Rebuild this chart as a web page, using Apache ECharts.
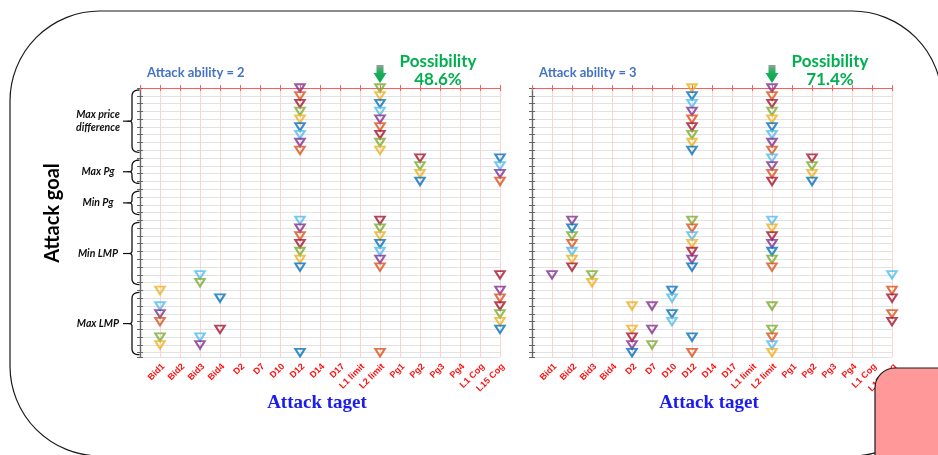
<!DOCTYPE html>
<html>
<head>
<meta charset="utf-8">
<script src="https://cdn.jsdelivr.net/npm/echarts@6/dist/echarts.min.js"></script>
<style>
  html, body { margin: 0; padding: 0; background: #fff; }
  #chart { width: 938px; height: 455px; }
</style>
</head>
<body>
<div id="chart"></div>
<script>
// Attack targets on the x axis (positions 1..18)
const targets = ['Bid1', 'Bid2', 'Bid3', 'Bid4', 'D2', 'D7', 'D10', 'D12', 'D14', 'D17',
  'L1 limit', 'L2 limit', 'Pg1', 'Pg2', 'Pg3', 'Pg4', 'L1 Cog', 'L15 Cog'];

// Attack goals and the rows each one covers
const goals = ['Max price\ndifference', 'Max Pg', 'Min Pg', 'Min LMP', 'Max LMP'];
const goalRows = [[0, 8], [9, 12], [13, 16], [17, 25], [26, 34]];

// Panel headings
const abilities = ['Attack ability = 2', 'Attack ability = 3'];
const possibilities = ['48.6%', '71.4%'];
const highlightTarget = 'L2 limit';

// Marker colours by code
const markerColors = {
  B: '#0072BD', O: '#D95319', Y: '#EDB120', P: '#7E2F8E',
  G: '#77AC30', C: '#4DBEEE', R: '#A2142F'
};

// Successful attacks: [target, first row, colour code for each consecutive row]
const ability2Runs = [
  ['Bid1', 26, 'Y'], ['Bid1', 28, 'CPO'], ['Bid1', 32, 'GY'],
  ['Bid3', 24, 'CG'], ['Bid3', 32, 'CP'],
  ['Bid4', 27, 'B'], ['Bid4', 31, 'R'],
  ['D12', 0, 'PORGYBCPO'], ['D12', 17, 'CPORGYB'], ['D12', 34, 'B'],
  ['L2 limit', 0, 'GYBCPORGY'], ['L2 limit', 17, 'RGYBCPO'], ['L2 limit', 34, 'O'],
  ['Pg2', 9, 'RGYB'],
  ['L15 Cog', 9, 'BCPO'], ['L15 Cog', 24, 'R'], ['L15 Cog', 26, 'PORGYB']
];

const ability3Runs = [
  ['Bid1', 24, 'P'],
  ['Bid2', 17, 'PBGOCYR'],
  ['Bid3', 24, 'GY'],
  ['D2', 28, 'Y'], ['D2', 31, 'YRPB'],
  ['D7', 28, 'P'], ['D7', 31, 'P'], ['D7', 33, 'G'],
  ['D10', 26, 'BC'], ['D10', 29, 'BC'],
  ['D12', 0, 'YBCPORGYB'], ['D12', 17, 'GOCYRPB'], ['D12', 32, 'B'], ['D12', 34, 'O'],
  ['L2 limit', 0, 'PORGYBCPOCPOR'], ['L2 limit', 17, 'CYRPBGO'], ['L2 limit', 28, 'G'],
  ['L2 limit', 31, 'GOCY'],
  ['Pg2', 9, 'RGYB'],
  ['L15 Cog', 24, 'C'], ['L15 Cog', 26, 'OR'], ['L15 Cog', 29, 'OR']
];

const panelRuns = [ability2Runs, ability3Runs];

// ---- layout ----
const GRIDS = [
  { left: 140, top: 88, width: 360, height: 269 },
  { left: 532, top: 88, width: 360, height: 269 }
];
const Y_MAX = 34.55;
const RED_EDGE = '#ff5c5c';
const GREY_EDGE = '#666';

function buildMarks(runs) {
  const pts = [];
  runs.forEach(([target, row, codes]) => {
    [...codes].forEach((c, k) => {
      pts.push({
        value: [targets.indexOf(target) + 1, row + k],
        itemStyle: { borderColor: markerColors[c] }
      });
    });
  });
  // lower rows are painted last
  pts.sort((a, b) => a.value[1] - b.value[1]);
  return pts;
}

const xAxes = [], yAxes = [], series = [];
GRIDS.forEach((g, i) => {
  xAxes.push({
    gridIndex: i, type: 'value', min: 0, max: 18, interval: 1, position: 'bottom',
    axisLine: { lineStyle: { color: RED_EDGE, width: 1.2 } },
    axisTick: { inside: true, length: 3, lineStyle: { color: RED_EDGE } },
    axisLabel: {
      rotate: 45, margin: 5, fontSize: 9, fontWeight: 'bold', color: '#ff1010',
      fontFamily: 'Liberation Sans', showMinLabel: true, showMaxLabel: true,
      align: 'right', verticalAlign: 'top',
      formatter: v => targets[v - 1] || ''
    },
    splitLine: { show: true, lineStyle: { color: '#ffd2d2', width: 1 } }
  });
  xAxes.push({
    gridIndex: i, type: 'value', min: 0, max: 18, interval: 1, position: 'top',
    axisLine: { lineStyle: { color: RED_EDGE, width: 1.2 } },
    axisTick: { inside: true, length: 3, lineStyle: { color: RED_EDGE } },
    axisLabel: { show: false },
    splitLine: { show: false }
  });
  yAxes.push({
    gridIndex: i, type: 'value', inverse: true, min: 0, max: Y_MAX, interval: 1, position: 'left',
    axisLine: { show: true, lineStyle: { color: GREY_EDGE, width: 1.2 } },
    axisTick: { show: true, inside: true, length: 3, lineStyle: { color: GREY_EDGE } },
    axisLabel: { show: false },
    splitLine: { show: true, lineStyle: { color: '#e2e2e2', width: 1 } }
  });
  yAxes.push({
    gridIndex: i, type: 'value', inverse: true, min: 0, max: Y_MAX, interval: 1, position: 'right',
    axisLine: { show: true, lineStyle: { color: GREY_EDGE, width: 1.2 } },
    axisTick: { show: true, inside: true, length: 3, lineStyle: { color: GREY_EDGE } },
    axisLabel: { show: false },
    splitLine: { show: false }
  });
  series.push({
    type: 'scatter',
    xAxisIndex: 2 * i, yAxisIndex: 2 * i,
    symbol: 'triangle', symbolRotate: 180, symbolSize: [9.5, 7.5],
    itemStyle: { color: 'rgba(255,255,255,0)', borderWidth: 2 },
    emphasis: { disabled: true },
    data: buildMarks(panelRuns[i]),
    z: 5
  });
});

const chart = echarts.init(document.getElementById('chart'), null, { renderer: 'canvas' });
chart.setOption({
  animation: false,
  backgroundColor: '#fff',
  grid: GRIDS.map(g => Object.assign({ containLabel: false }, g)),
  xAxis: xAxes,
  yAxis: yAxes,
  series: series
});

// ---- annotations ----
const graphics = [];

// slide frame
graphics.push({
  type: 'rect', z: 0, silent: true,
  shape: { x: 10, y: 11, width: 932, height: 445, r: 90 },
  style: { fill: 'none', stroke: '#1a1a1a', lineWidth: 1.2 }
});

const hiIdx = targets.indexOf(highlightTarget) + 1;
GRIDS.forEach((g, i) => {
  graphics.push({
    type: 'text', z: 20,
    x: g.left + 7, y: 73,
    style: {
      text: abilities[i], fill: '#4472C4', font: 'bold 13px Lato',
      textAlign: 'left', textVerticalAlign: 'middle'
    }
  });
  graphics.push({
    type: 'text', z: 20,
    x: g.left + 298, y: 71,
    style: {
      text: 'Possibility\n' + possibilities[i], fill: '#00B050', font: 'bold 17px Lato',
      textAlign: 'center', textVerticalAlign: 'middle', lineHeight: 18
    }
  });
  // arrow pointing at the highlighted target column
  const ax = chart.convertToPixel({ xAxisIndex: 2 * i }, hiIdx);
  graphics.push({
    type: 'polygon', z: 20, silent: true,
    shape: {
      points: [[ax - 3.5, 65], [ax + 3.5, 65], [ax + 3.5, 73], [ax + 6.5, 73],
               [ax, 83], [ax - 6.5, 73], [ax - 3.5, 73]]
    },
    style: {
      fill: {
        type: 'linear', x: 0, y: 0, x2: 0, y2: 1,
        colorStops: [
          { offset: 0, color: '#8fa69a' }, { offset: 0.4, color: '#1fae5a' }, { offset: 1, color: '#00A850' }
        ]
      }
    }
  });
  graphics.push({
    type: 'text', z: 20,
    x: g.left + g.width / 2 - 3, y: 403,
    style: {
      text: 'Attack taget', fill: '#1c1cf0', font: 'bold 19px "Liberation Serif"',
      textAlign: 'center', textVerticalAlign: 'middle'
    }
  });
});

// y-axis title
graphics.push({
  type: 'text', z: 20, x: 53, y: 213, rotation: Math.PI / 2,
  style: {
    text: 'Attack goal', fill: '#000', font: 'bold 20px Lato',
    textAlign: 'center', textVerticalAlign: 'middle'
  }
});

// quadratic curve sampled into points
function quad(p0, c, p1, n) {
  const pts = [];
  for (let s = 1; s <= n; s++) {
    const t = s / n, u = 1 - t;
    pts.push([u * u * p0[0] + 2 * u * t * c[0] + t * t * p1[0],
              u * u * p0[1] + 2 * u * t * c[1] + t * t * p1[1]]);
  }
  return pts;
}

// braces with goal labels
goalRows.forEach(([r0, r1], k) => {
  const y0 = chart.convertToPixel({ yAxisIndex: 0 }, r0) + 2;
  const y1 = chart.convertToPixel({ yAxisIndex: 0 }, r1) + 2;
  const ym = (y0 + y1) / 2;
  const xs = 132, xa = 139.5, xt = 129.5;
  let pts = [[xa, y0]];
  pts = pts.concat(quad([xa, y0], [xs, y0], [xs, y0 + 6], 6));
  pts.push([xs, ym - 3]);
  pts = pts.concat(quad([xs, ym - 3], [xs, ym], [xt, ym], 4));
  pts = pts.concat(quad([xt, ym], [xs, ym], [xs, ym + 3], 4));
  pts.push([xs, y1 - 6]);
  pts = pts.concat(quad([xs, y1 - 6], [xs, y1], [xa, y1], 6));
  graphics.push({
    type: 'polyline', z: 20, silent: true,
    shape: { points: pts },
    style: { fill: null, stroke: '#111', lineWidth: 1.3 }
  });
  graphics.push({
    type: 'line', z: 20, silent: true,
    shape: { x1: 123, y1: ym, x2: xt, y2: ym },
    style: { stroke: '#111', lineWidth: 1.2 }
  });
  graphics.push({
    type: 'text', z: 20, x: 98, y: ym,
    style: {
      text: goals[k], fill: '#111', font: 'italic bold 10.5px Lato',
      textAlign: 'center', textVerticalAlign: 'middle', lineHeight: 13
    }
  });
});

// corner card overlapping the frame
graphics.push({
  type: 'rect', z: 100, silent: true,
  shape: { x: 875, y: 368, width: 120, height: 120, r: 20 },
  style: { fill: '#ff9999', stroke: '#1a1a1a', lineWidth: 1.2 }
});

chart.setOption({ graphic: { elements: graphics } });
</script>
</body>
</html>
